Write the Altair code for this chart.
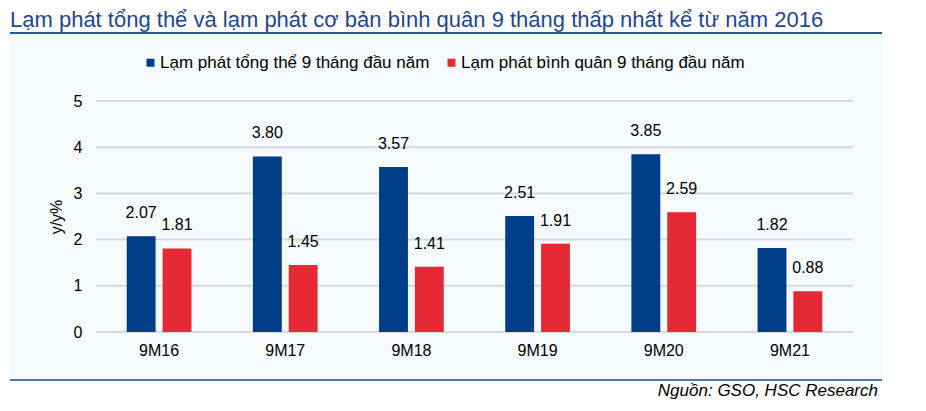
import altair as alt
import pandas as pd

categories = ["9M16", "9M17", "9M18", "9M19", "9M20", "9M21"]
series_names = ["Lạm phát tổng thể 9 tháng đầu năm", "Lạm phát bình quân 9 tháng đầu năm"]
headline = [2.07, 3.80, 3.57, 2.51, 3.85, 1.82]
core = [1.81, 1.45, 1.41, 1.91, 2.59, 0.88]
y_ticks = [0, 1, 2, 3, 4, 5]
colors = ["#003f87", "#e52a35"]

title_text = "Lạm phát tổng thể và lạm phát cơ bản bình quân 9 tháng thấp nhất kể từ năm 2016"
source_text = "Nguồn: GSO, HSC Research"

FONT = "Liberation Sans, Arial, sans-serif"

rows = []
for c, h, k in zip(categories, headline, core):
    rows.append({"cat": c, "series": series_names[0], "value": h})
    rows.append({"cat": c, "series": series_names[1], "value": k})
df = pd.DataFrame(rows)
ticks_df = pd.DataFrame({"t": y_ticks})
one = pd.DataFrame({"a": [0]})

W, H = 757, 231

x_axis = alt.Axis(title=None, domain=False, ticks=False, grid=False,
                  labelAngle=0, labelFontSize=16, labelPadding=10,
                  labelColor="#000000", labelFont=FONT, zindex=2)
y_axis = alt.Axis(title="y/y%", values=y_ticks, domain=False, ticks=False,
                  grid=False, labelFontSize=16, labelPadding=14,
                  labelColor="#000000", labelFont=FONT,
                  titleFontSize=16, titleFontWeight="normal",
                  titleColor="#000000", titleFont=FONT, titlePadding=9, zindex=2)

x_enc = alt.X("cat:N", sort=categories,
              scale=alt.Scale(paddingInner=0.487, paddingOuter=0.2435),
              axis=x_axis)
x_off = alt.XOffset("series:N", sort=series_names,
                    scale=alt.Scale(paddingInner=0.194, paddingOuter=0))
y_scale = alt.Scale(domain=[0, 5])

panel = alt.Chart(one).mark_rect(fill="#f5fbfd").encode(
    x=alt.value(-86), x2=alt.value(786), y=alt.value(-68), y2=alt.value(279))

top_line = alt.Chart(one).mark_rule(color="#2356a0", strokeWidth=2).encode(
    x=alt.value(-86), x2=alt.value(786), y=alt.value(-68))
bottom_line = alt.Chart(one).mark_rule(color="#4a7ab5", strokeWidth=2).encode(
    x=alt.value(-86), x2=alt.value(786), y=alt.value(279))

grid = alt.Chart(ticks_df).mark_rule(color="#d9d9d9", strokeWidth=2).encode(
    y=alt.Y("t:Q", scale=y_scale, axis=y_axis),
    x=alt.value(0), x2=alt.value(W))

bars = alt.Chart(df).mark_bar().encode(
    x=x_enc,
    xOffset=x_off,
    y=alt.Y("value:Q", scale=y_scale, axis=y_axis),
    color=alt.Color("series:N", sort=series_names,
                    scale=alt.Scale(domain=series_names, range=colors),
                    legend=alt.Legend(title=None, orient="none", legendX=46, legendY=-47,
                                      direction="horizontal", symbolType="square",
                                      symbolSize=64, symbolStrokeWidth=0,
                                      labelFontSize=17, labelFont=FONT,
                                      labelColor="#000000", labelOffset=1,
                                      labelLimit=0, columnPadding=13)),
)

labels = alt.Chart(df).mark_text(dy=-18, baseline="alphabetic", fontSize=16,
                                 font=FONT, color="#000000").encode(
    x=x_enc, xOffset=x_off,
    y=alt.Y("value:Q", scale=y_scale, axis=y_axis),
    text=alt.Text("value:Q", format=".2f"))

title = alt.Chart(one).mark_text(align="left", baseline="alphabetic", fontSize=22,
                                 font=FONT, color="#1f4690").encode(
    x=alt.value(-86), y=alt.value(-74), text=alt.value(title_text))

source = alt.Chart(one).mark_text(align="right", baseline="alphabetic", fontSize=17,
                                  font=FONT, fontStyle="italic", color="#000000").encode(
    x=alt.value(782), y=alt.value(295), text=alt.value(source_text))

chart = alt.layer(panel, top_line, bottom_line, grid, bars, labels, title, source).properties(
    width=W, height=H,
    padding={"left": 88, "top": 93, "right": 65, "bottom": 71},
    autosize=alt.AutoSizeParams(type="none"),
    background="#ffffff",
).configure_view(stroke=None)

chart.save("out.html", embed_options={"renderer": "svg", "actions": False})
